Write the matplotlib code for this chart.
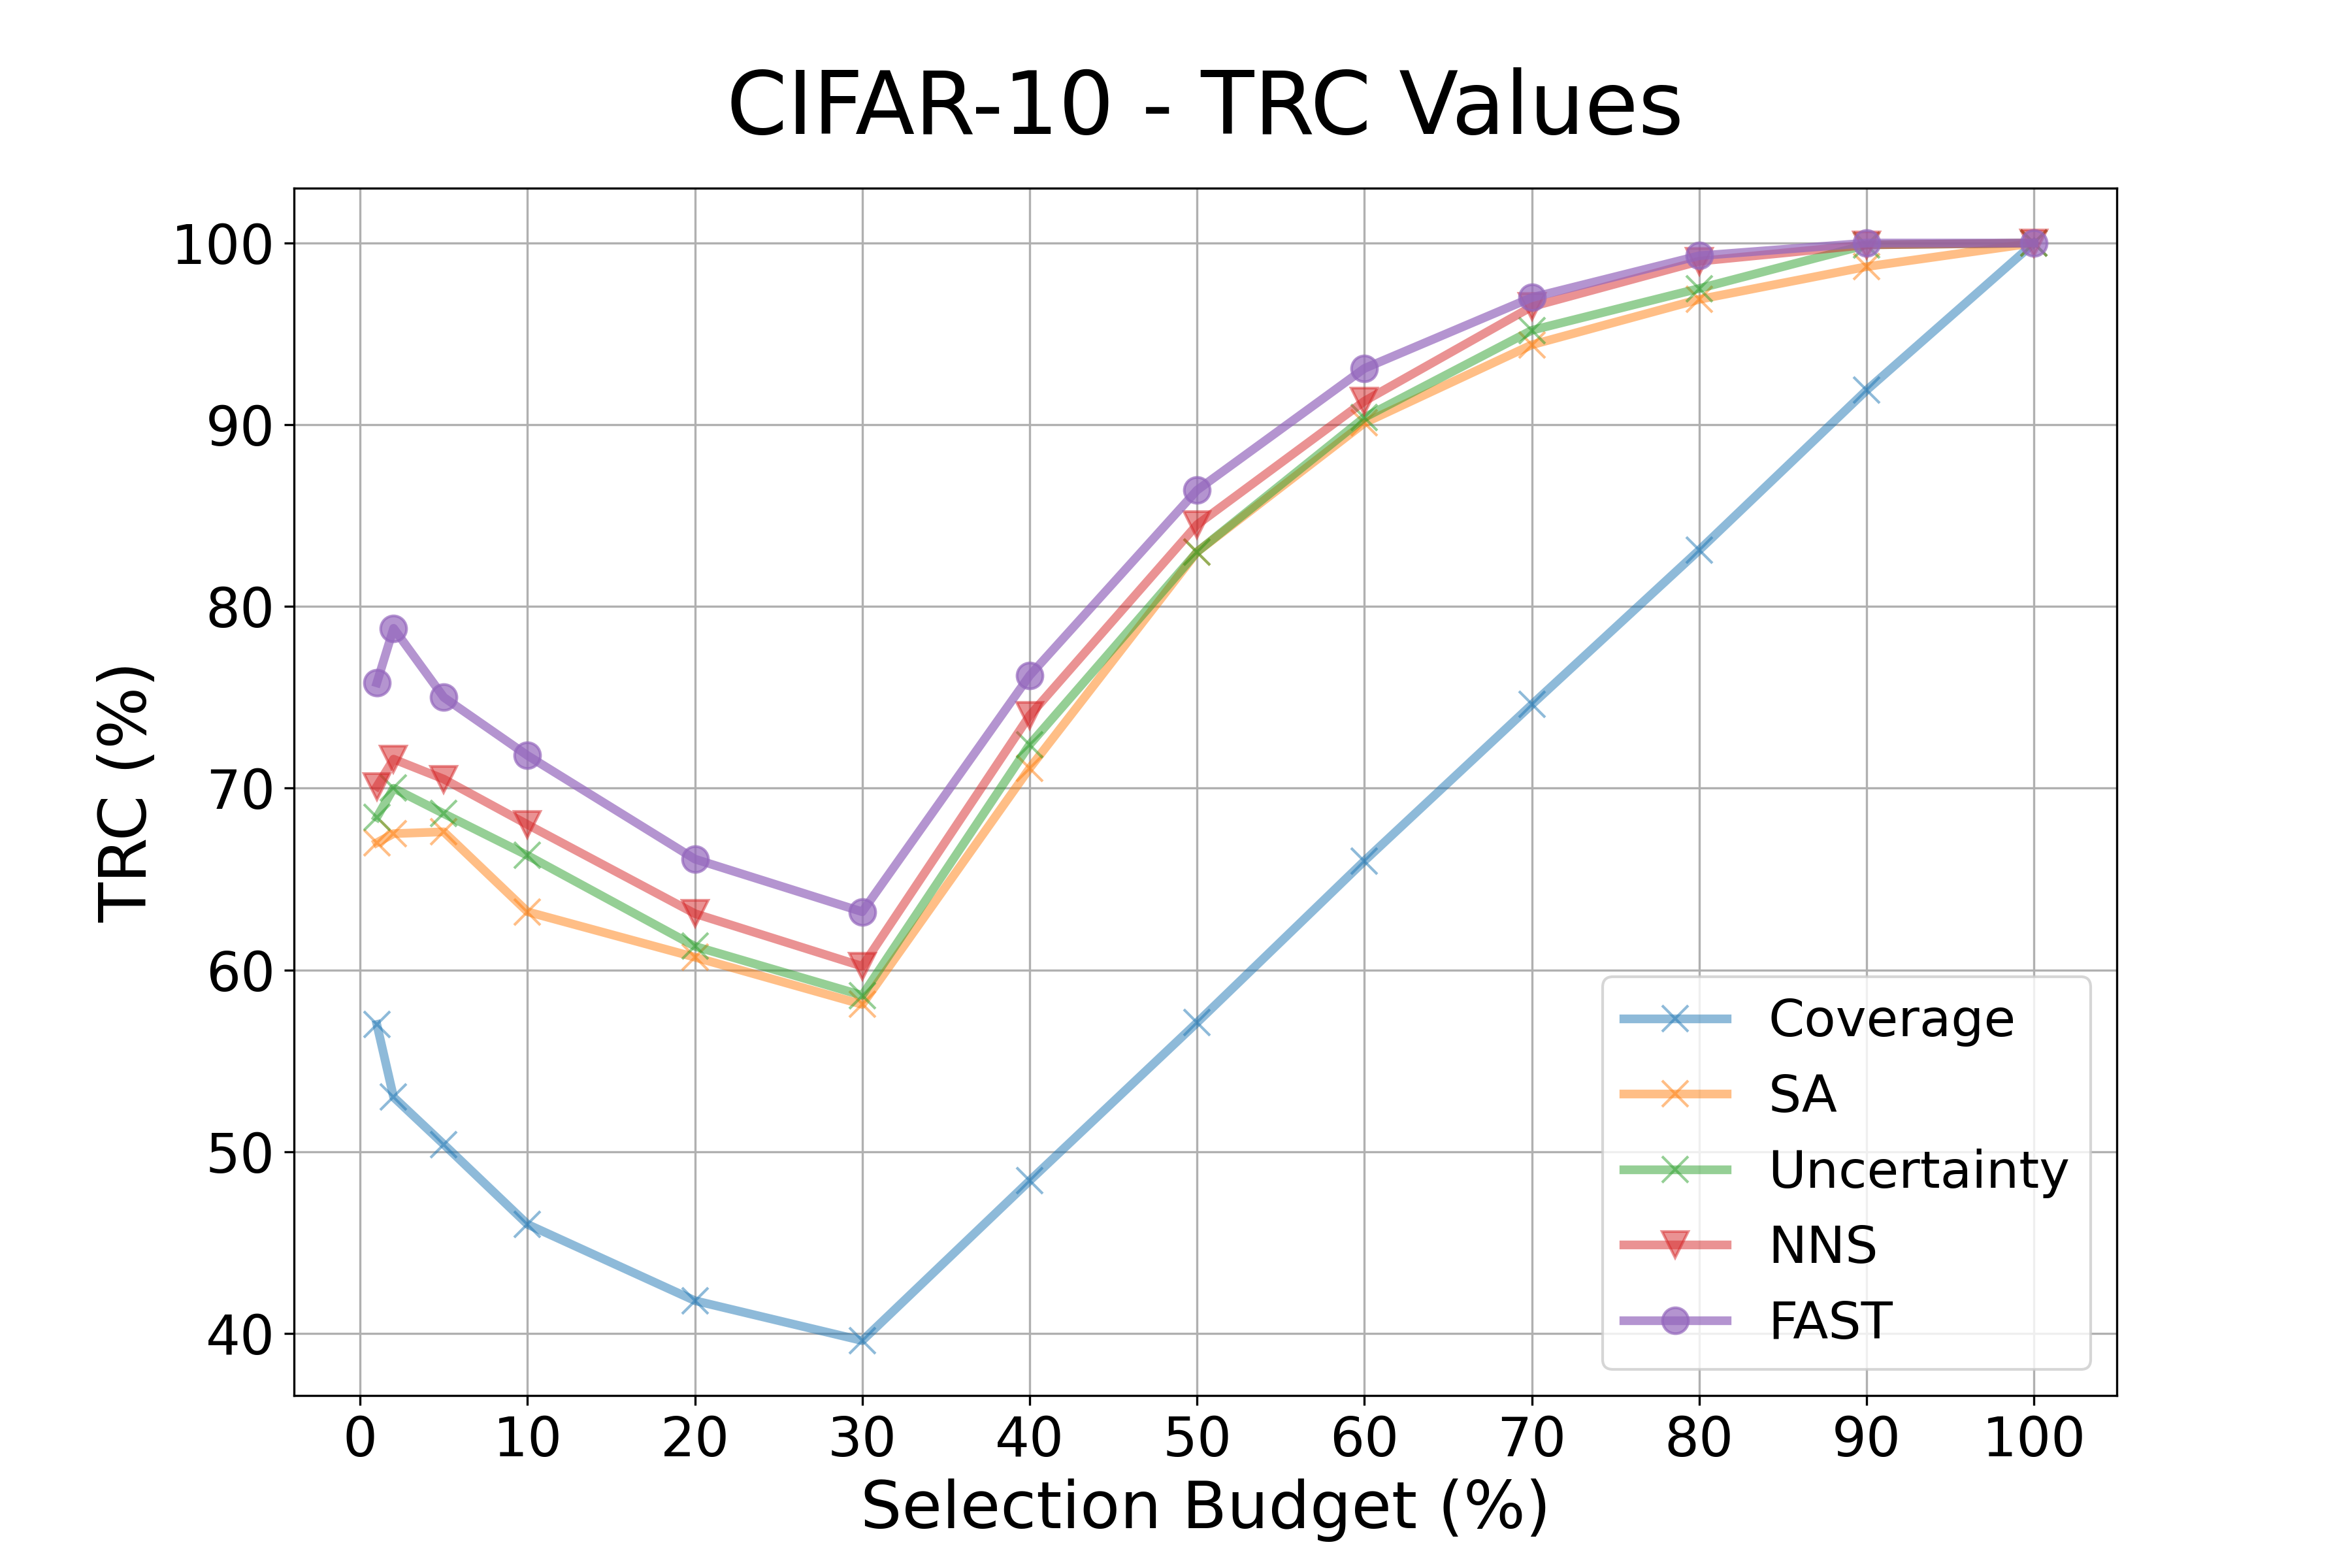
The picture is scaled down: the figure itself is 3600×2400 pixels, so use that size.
import numpy as np
import matplotlib
matplotlib.use("Agg")
import matplotlib.pyplot as plt

# Selection budget (%) on the x axis
budget = [1, 2, 5, 10, 20, 30, 40, 50, 60, 70, 80, 90, 100]

# TRC (%) per method
coverage = [57.0, 53.0, 50.4, 46.0, 41.8, 39.6, 48.4, 57.1, 66.0, 74.6, 83.1, 91.9, 100.0]
sa = [67.0, 67.5, 67.6, 63.2, 60.7, 58.1, 71.1, 83.0, 90.1, 94.4, 96.9, 98.7, 100.0]
uncertainty = [68.4, 70.0, 68.6, 66.3, 61.3, 58.6, 72.4, 83.0, 90.4, 95.2, 97.5, 99.9, 100.0]
nns = [70.1, 71.6, 70.5, 68.0, 63.1, 60.2, 74.0, 84.5, 91.3, 96.5, 99.0, 99.9, 100.0]
fast = [75.8, 78.8, 75.0, 71.8, 66.1, 63.2, 76.2, 86.4, 93.1, 97.0, 99.3, 100.0, 100.0]

methods = ["Coverage", "SA", "Uncertainty", "NNS", "FAST"]
markers = ["x", "x", "x", "v", "o"]
alphas = [0.5, 0.5, 0.5, 0.5, 0.7]
series = [coverage, sa, uncertainty, nns, fast]

fig, ax = plt.subplots(figsize=(12, 8), dpi=300)

for name, mk, a, vals in zip(methods, markers, alphas, series):
    ax.plot(budget, vals, marker=mk, label=name, linewidth=3.2,
            markersize=9.5, alpha=a)

ax.set_xticks(np.arange(0, 101, 10))
ax.tick_params(labelsize=20)
ax.set_xlabel("Selection Budget (%)", fontsize=24)
ax.set_ylabel("TRC (%)", fontsize=24)
ax.set_title("CIFAR-10 - TRC Values", fontsize=32, pad=20)
ax.grid(True)
ax.legend(loc="lower right", fontsize=19)

plt.savefig("out.png", dpi=300)
